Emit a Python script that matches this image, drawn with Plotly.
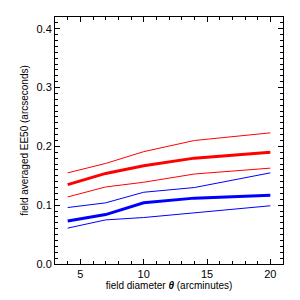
import plotly.graph_objects as go

theta = [4, 7, 10, 14, 20]
red_upper = [0.155, 0.171, 0.191, 0.210, 0.223]
red_mid = [0.135, 0.154, 0.167, 0.180, 0.190]
red_lower = [0.114, 0.131, 0.139, 0.153, 0.163]
blue_upper = [0.096, 0.104, 0.122, 0.130, 0.155]
blue_mid = [0.073, 0.084, 0.104, 0.112, 0.117]
blue_lower = [0.061, 0.075, 0.079, 0.087, 0.099]

RED = "#ff0000"
BLUE = "#0000ff"

fig = go.Figure()
series = [
    (red_upper, RED, 1),
    (red_mid, RED, 3),
    (red_lower, RED, 1),
    (blue_upper, BLUE, 1),
    (blue_mid, BLUE, 3),
    (blue_lower, BLUE, 1),
]
for ys, c, w in series:
    fig.add_trace(go.Scatter(x=theta, y=ys, mode="lines", line=dict(color=c, width=w),
                             showlegend=False, hoverinfo="skip"))

tickfont = dict(family="Liberation Sans, Arial, sans-serif", size=11, color="black")
titlefont = dict(family="Liberation Sans, Arial, sans-serif", size=10, color="black")
axis_common = dict(showgrid=False, zeroline=False, showline=True, linecolor="black", linewidth=1,
                   mirror="allticks", ticks="inside", ticklen=5, tickwidth=1, tickcolor="black",
                   tickfont=tickfont)

fig.update_xaxes(range=[3, 21], tickvals=[5, 10, 15, 20],
                 minor=dict(dtick=1, ticks="inside", ticklen=3, tickcolor="black", showgrid=False),
                 title=dict(text="field diameter <b><i>θ</i></b> (arcminutes)", font=titlefont, standoff=1),
                 **axis_common)
fig.update_yaxes(range=[0, 0.42], tickvals=[0.0, 0.1, 0.2, 0.3, 0.4], tickformat=".1f",
                 minor=dict(dtick=0.01, ticks="inside", ticklen=3, tickcolor="black", showgrid=False),
                 title=dict(text="field averaged EE50 (arcseconds)", font=titlefont, standoff=6),
                 **axis_common)

fig.update_layout(width=300, height=300, margin=dict(l=55, r=17, t=17, b=36),
                  paper_bgcolor="white", plot_bgcolor="white", font=titlefont)

fig.write_html("out.html", config={"displayModeBar": False, "staticPlot": True},
               post_script="document.body.style.margin='0';")
